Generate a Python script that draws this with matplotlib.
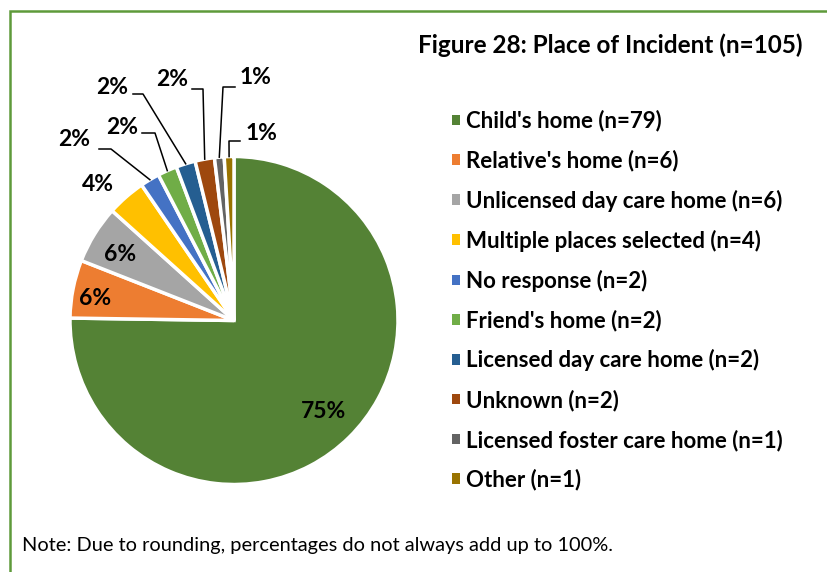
import numpy as np
import matplotlib.pyplot as plt
from matplotlib.patches import Rectangle

# data
places = ["Child's home", "Relative's home", "Unlicensed day care home",
          "Multiple places selected", "No response", "Friend's home",
          "Licensed day care home", "Unknown", "Licensed foster care home", "Other"]
counts = [79, 6, 6, 4, 2, 2, 2, 2, 1, 1]
colors = ['#548235', '#ED7D31', '#A5A5A5', '#FFC000', '#4472C4', '#70AD47',
          '#255E91', '#9E480E', '#636363', '#997300']
title = 'Figure 28: Place of Incident (n=105)'
note = 'Note: Due to rounding, percentages do not always add up to 100%.'

plt.rcParams['font.family'] = ['Lato', 'DejaVu Sans']

W, H = 828, 572
CX, CY, R = 234, 320.5, 164  # pie centre / radius in pixels

fig = plt.figure(figsize=(W / 100, H / 100), dpi=100)
ax = fig.add_axes([0, 0, 1, 1])

def px(x, y):
    # pixel position -> data coords of the pie axes
    return (x - CX) / R, (CY - y) / R

total = sum(counts)
wedges, _ = ax.pie(counts, colors=colors, startangle=90, counterclock=False,
                   radius=1.0, wedgeprops=dict(edgecolor='white', linewidth=2.5))
ax.set_xlim(-CX / R, (W - CX) / R)
ax.set_ylim(-(H - CY) / R, CY / R)
ax.set_aspect('auto')
ax.axis('off')

pcts = ['%d%%' % round(100 * c / total) for c in counts]
mids = [np.deg2rad((w.theta1 + w.theta2) / 2) for w in wedges]
LBL = 16.5

# labels inside / just outside (no leader): distance, angle override (deg)
inner = {0: (0.78, None), 1: (0.86, 171), 2: (0.80, 150), 3: (1.17, 135)}
for i, (d, ang) in inner.items():
    a = mids[i] if ang is None else np.deg2rad(ang)
    ax.text(d * np.cos(a), d * np.sin(a), pcts[i], ha='center', va='center',
            fontsize=LBL, fontweight='bold', color='black')

# labels with leader lines: text pos, elbow start, elbow end (pixels)
leaders = {
    4: ((74, 140), (99, 149), (111, 149)),
    5: ((122, 127), (142, 133), (155, 133)),
    6: ((112, 87), (133, 94), (143, 94)),
    7: ((172, 80), (192, 89), (203, 89)),
    8: ((256, 78), (235, 87), (223, 87)),
    9: ((262, 133), (240, 141), (229, 141)),
}
for i, (tp, e1, e2) in leaders.items():
    a = mids[i]
    end = (np.cos(a), np.sin(a))
    p1, p2 = px(*e1), px(*e2)
    ax.plot([p1[0], p2[0], end[0]], [p1[1], p2[1], end[1]], color='black', lw=1.1)
    tx, ty = px(*tp)
    ax.text(tx, ty, pcts[i], ha='center', va='center', fontsize=LBL,
            fontweight='bold', color='black')

labels = ['%s (n=%d)' % (p, c) for p, c in zip(places, counts)]
ax.legend(wedges, labels, loc='upper left', bbox_to_anchor=(441 / W, 1 - 99 / H),
          bbox_transform=fig.transFigure, frameon=False, borderpad=0,
          handlelength=0.34, handleheight=0.34, handletextpad=0.3,
          labelspacing=0.81, prop=dict(size=16, weight='bold'))
for p in ax.get_legend().get_patches():
    p.set_edgecolor('none')

fig.text(610 / W, 1 - 45 / H, title, ha='center', va='center', fontsize=17.5,
         fontweight='bold')
fig.text(22 / W, 1 - 545 / H, note, ha='left', va='center', fontsize=14.4)

# green frame, open on the right and bottom
fig.add_artist(Rectangle((9.5 / W, -0.1), 1.2, 1 - 10.5 / H + 0.1,
                         transform=fig.transFigure, fill=False,
                         edgecolor='#5E9A3A', lw=1.8))

fig.savefig('out.png', dpi=100)
